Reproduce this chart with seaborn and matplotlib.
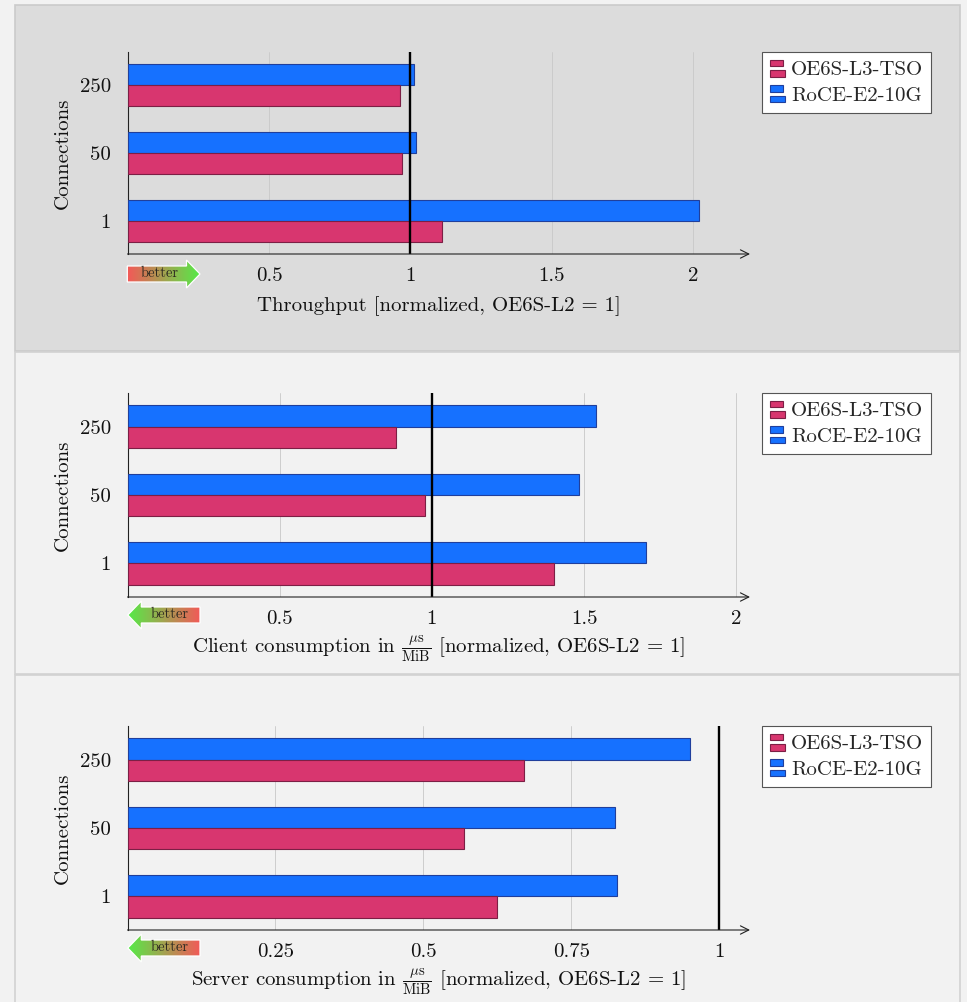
import numpy as np
import pandas as pd
import matplotlib
matplotlib.use("Agg")
import matplotlib.pyplot as plt
from matplotlib.patches import Rectangle, Polygon
from matplotlib.legend_handler import HandlerBase
from matplotlib.colors import LinearSegmentedColormap
import seaborn as sns

# ---- data -------------------------------------------------------------
connections = ["250", "50", "1"]
series = ["OE6S-L3-TSO", "RoCE-E2-10G"]

throughput_tso = [0.964, 0.969, 1.111]
throughput_roce = [1.012, 1.019, 2.018]

client_tso = [0.881, 0.976, 1.402]
client_roce = [1.540, 1.484, 1.703]

server_tso = [0.670, 0.569, 0.624]
server_roce = [0.950, 0.824, 0.828]

throughput_ticks = [0.5, 1, 1.5, 2]
throughput_ticklabels = ["0.5", "1", "1.5", "2"]
client_ticks = [0.5, 1, 1.5, 2]
client_ticklabels = ["0.5", "1", "1.5", "2"]
server_ticks = [0.25, 0.5, 0.75, 1]
server_ticklabels = ["0.25", "0.5", "0.75", "1"]

throughput_label = "Throughput [normalized, OE6S-L2 = 1]"
client_label = r"Client consumption in $\frac{\mu\mathrm{s}}{\mathrm{MiB}}$ [normalized, OE6S-L2 = 1]"
server_label = r"Server consumption in $\frac{\mu\mathrm{s}}{\mathrm{MiB}}$ [normalized, OE6S-L2 = 1]"
y_label = "Connections"
better_text = "better"

# ---- style ------------------------------------------------------------
sns.set_theme(style="white")
plt.rcParams["font.family"] = ["cmr10", "DejaVu Serif"]
plt.rcParams["mathtext.fontset"] = "cm"
plt.rcParams["axes.formatter.use_mathtext"] = True

RED, RED_EDGE = "#d8366f", "#7c1f45"
BLUE, BLUE_EDGE = "#1671ff", "#203f9c"
palette = {series[0]: RED, series[1]: BLUE}
edges = {series[0]: RED_EDGE, series[1]: BLUE_EDGE}

W, H = 967, 1002
fig = plt.figure(figsize=(W / 100, H / 100), dpi=100, facecolor="#f2f2f2")


def panel_bg(top, bottom, face, edge):
    r = Rectangle((15 / W, 1 - bottom / H), 945 / W, (bottom - top) / H,
                  transform=fig.transFigure, facecolor=face, edgecolor=edge,
                  linewidth=1.2, zorder=-10)
    fig.add_artist(r)


panel_bg(5, 350.5, "#dcdcdc", "#cbcbcb")
panel_bg(351.5, 674, "#f2f2f2", "#d2d2d2")
panel_bg(675, 1012, "#f2f2f2", "#d2d2d2")


def px_axes(left, top, right, bottom):
    return fig.add_axes([left / W, 1 - bottom / H, (right - left) / W, (bottom - top) / H])


class TwoBarHandler(HandlerBase):
    """Legend key drawn as two stacked horizontal bars."""

    def create_artists(self, legend, orig_handle, xdescent, ydescent,
                       width, height, fontsize, trans):
        fc = orig_handle.get_facecolor()
        ec = orig_handle.get_edgecolor()
        bh = height * 0.40
        top = Rectangle((-xdescent, -ydescent + height * 0.62), width * 0.84, bh,
                        facecolor=fc, edgecolor=ec, linewidth=0.8, transform=trans)
        bot = Rectangle((-xdescent, -ydescent), width, bh,
                        facecolor=fc, edgecolor=ec, linewidth=0.8, transform=trans)
        return [top, bot]


def better_arrow(x_left, x_right, yc, pointing):
    head_len, head_half, body_half = 13.5, 14.0, 8.0
    pad = 2.0
    a = fig.add_axes([(x_left - pad) / W, 1 - (yc + head_half + pad) / H,
                      (x_right - x_left + 2 * pad) / W, (2 * head_half + 2 * pad) / H])
    a.set_xlim(x_left - pad, x_right + pad)
    a.set_ylim(-head_half - pad, head_half + pad)
    a.axis("off")
    a.patch.set_alpha(0)
    if pointing == "right":
        hb = x_right - head_len
        pts = [(x_left, body_half), (hb, body_half), (hb, head_half), (x_right, 0),
               (hb, -head_half), (hb, -body_half), (x_left, -body_half)]
        cmap = LinearSegmentedColormap.from_list("g", ["#f45858", "#55ea48"])
        tx = (x_left + hb) / 2 + 3
    else:
        hb = x_left + head_len
        pts = [(x_right, body_half), (hb, body_half), (hb, head_half), (x_left, 0),
               (hb, -head_half), (hb, -body_half), (x_right, -body_half)]
        cmap = LinearSegmentedColormap.from_list("g", ["#55ea48", "#f45858"])
        tx = (x_right + hb) / 2 - 1
    grad = np.linspace(0, 1, 256).reshape(1, -1)
    im = a.imshow(grad, cmap=cmap, extent=(x_left, x_right, -head_half, head_half),
                  aspect="auto", interpolation="bilinear")
    poly = Polygon(pts, closed=True, facecolor="none", edgecolor="white", linewidth=0.9)
    a.add_patch(poly)
    im.set_clip_path(poly)
    a.text(tx, 0.5, better_text, ha="center", va="center", fontsize=10.5, color="#2e2a22")


panels = [
    dict(tso=throughput_tso, roce=throughput_roce, ticks=throughput_ticks,
         labels=throughput_ticklabels, xlabel=throughput_label, xmax=2.2,
         box=(127.5, 52, 750, 254), arrow="right"),
    dict(tso=client_tso, roce=client_roce, ticks=client_ticks,
         labels=client_ticklabels, xlabel=client_label, xmax=2.045,
         box=(127.5, 393, 750, 597), arrow="left"),
    dict(tso=server_tso, roce=server_roce, ticks=server_ticks,
         labels=server_ticklabels, xlabel=server_label, xmax=1.052,
         box=(127.5, 726, 750, 930), arrow="left"),
]

for p in panels:
    left, top, right, bottom = p["box"]
    ax = px_axes(left, top, right, bottom)
    ax.set_facecolor("none")

    df = pd.DataFrame({
        "Connections": connections * 2,
        "value": list(p["tso"]) + list(p["roce"]),
        "series": [series[0]] * 3 + [series[1]] * 3,
    })
    hue_order = [series[1], series[0]]
    sns.barplot(data=df, x="value", y="Connections", hue="series", order=connections,
                hue_order=hue_order, palette=palette, orient="h", width=0.625,
                saturation=1, errorbar=None, legend=False, linewidth=0.8, ax=ax,
                zorder=3)
    for cont, name in zip(ax.containers, hue_order):
        for bar in cont:
            bar.set_edgecolor(edges[name])
            bar.set_linewidth(0.8)

    ax.set_xlim(0, p["xmax"])
    ax.set_ylim(2.49, -0.49)
    ax.set_xticks(p["ticks"])
    ax.set_xticklabels(p["labels"])
    ax.grid(axis="x", color="#c8c8c8", linewidth=0.6, zorder=0)
    ax.grid(axis="y", visible=False)
    ax.set_axisbelow(True)
    ax.axvline(1, color="black", linewidth=1.7, zorder=6)

    ax.tick_params(axis="both", length=0, labelsize=15, colors="#111111")
    ax.tick_params(axis="x", pad=9.5)
    ax.tick_params(axis="y", pad=12)

    for s in ("top", "right", "bottom"):
        ax.spines[s].set_visible(False)
    ax.spines["left"].set_color("#222222")
    ax.spines["left"].set_linewidth(0.8)
    ax.annotate("", xy=(1.0, 0), xycoords="axes fraction", xytext=(0, 0),
                textcoords="axes fraction",
                arrowprops=dict(arrowstyle="->,head_length=0.5,head_width=0.25",
                                color="#222222", lw=0.8, shrinkA=0, shrinkB=0),
                zorder=7)

    ax.set_ylabel(y_label, fontsize=15, labelpad=5.5, color="#111111")
    ax.set_xlabel(p["xlabel"], fontsize=15, color="#111111")
    axh = bottom - top
    ax.xaxis.set_label_coords(0.5, -57.0 / axh)
    ax.xaxis.label.set_va("baseline")

    handles = [Rectangle((0, 0), 1, 1, facecolor=palette[s], edgecolor=edges[s]) for s in series]
    leg = ax.legend(handles, series, loc="upper left", bbox_to_anchor=(1.0193, 1.0),
                    borderaxespad=0, fontsize=15, frameon=True, fancybox=False,
                    edgecolor="#555555", facecolor="white", framealpha=1,
                    handlelength=0.72, handleheight=0.85, handletextpad=0.3,
                    labelspacing=0.3, borderpad=0.38,
                    handler_map={h: TwoBarHandler() for h in handles})
    leg.get_frame().set_linewidth(0.8)

    if p["arrow"] == "right":
        better_arrow(127.3, 200, bottom + 20, "right")
    else:
        better_arrow(127.8, 200, bottom + 18, "left")

fig.savefig("out.png", dpi=100, facecolor=fig.get_facecolor())
